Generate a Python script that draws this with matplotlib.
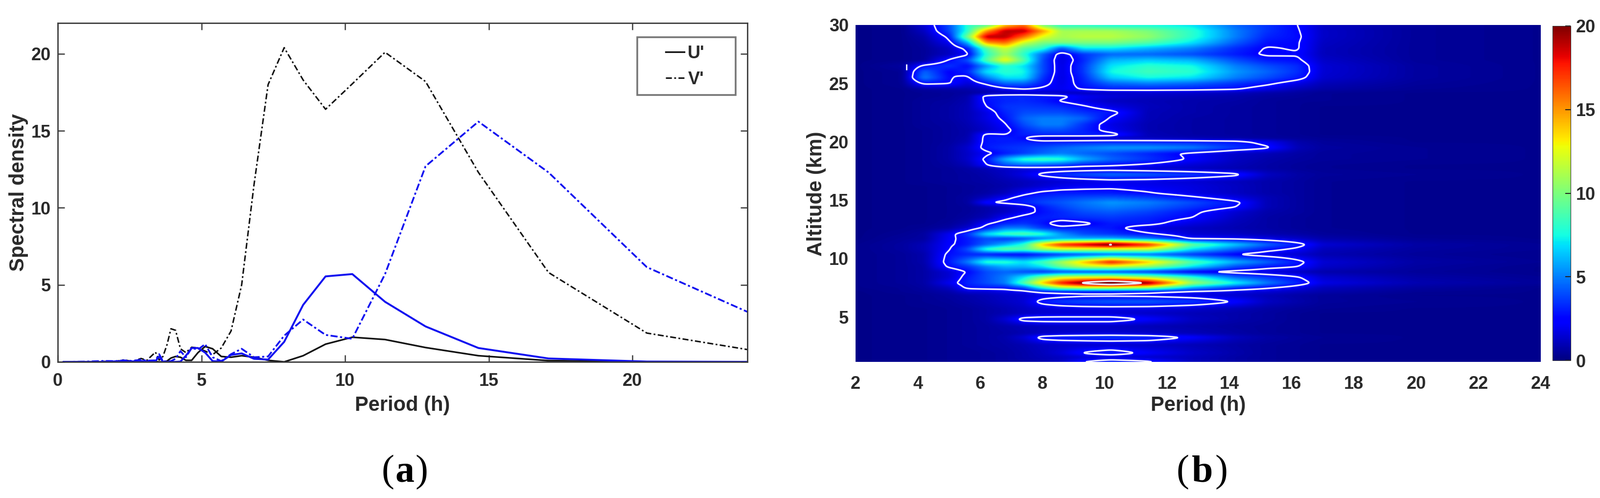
import matplotlib
matplotlib.use("Agg")
import matplotlib.pyplot as plt
from matplotlib.patches import Rectangle
import numpy as np

plt.rcParams['font.family'] = ['Liberation Sans', 'DejaVu Sans']
plt.rcParams['font.weight'] = 'bold'

W, H = 3269.0, 1017.0
text_col = '#2a2a2a'
spine_col = '#3c3c3c'

# panel (a): spectral density against period
period_a = [0.2, 1.0, 1.6, 2.0, 2.3, 2.6, 2.9, 3.1, 3.4, 3.53, 3.66, 3.8, 3.94, 4.1, 4.27, 4.46,
            4.66, 4.88, 5.13, 5.39, 5.69, 6.03, 6.4, 6.83, 7.32, 7.88, 8.54, 9.32, 10.25, 11.39,
            12.8, 14.64, 17.08, 20.5, 24.0]
u_black = [0, 0, 0, 0.02, 0.02, 0.02, 0.03, 0.02, 0.02, 0, 0, 0.05, 0.25, 0.35, 0.3, 0.1,
           0.1, 0.6, 1.0, 0.85, 0.35, 0.3, 0.4, 0.3, 0.1, 0, 0.4, 1.15, 1.6, 1.45,
           0.93, 0.4, 0.08, 0.01, 0]
v_black = [0, 0, 0.03, 0.03, 0.13, 0.03, 0.22, 0.1, 0.63, 0.12, 0.35, 1.1, 2.15, 2.05, 0.85, 0.6,
           0.95, 0.9, 0.7, 0.47, 0.9, 2.0, 5.0, 11.5, 18.0, 20.4, 18.3, 16.4, 18.05, 20.1,
           18.2, 12.3, 5.8, 1.87, 0.8]
u_blue = [0, 0, 0, 0.03, 0.05, 0.03, 0.06, 0.03, 0.05, 0.35, 0.02, 0, 0, 0, 0.02, 0.4,
          0.9, 0.9, 0.6, 0.05, 0.02, 0.45, 0.55, 0.2, 0.15, 1.3, 3.7, 5.55, 5.7, 3.9,
          2.3, 0.9, 0.22, 0.02, 0]
v_blue = [0, 0.02, 0.06, 0.05, 0.1, 0.06, 0.15, 0.08, 0.1, 0.5, 0.05, 0.02, 0.05, 0.2, 0.7, 0.3,
          0.9, 0.8, 1.15, 0.3, 0.05, 0.5, 0.85, 0.3, 0.35, 1.7, 2.75, 1.75, 1.5, 5.7,
          12.7, 15.6, 12.3, 6.15, 3.25]

xticks_a = [0, 5, 10, 15, 20]
yticks_a = [0, 5, 10, 15, 20]

# panel (b): spectral power on period / altitude grid
period_b = [2, 3.5, 4.2, 5, 5.6, 6.2, 6.8, 7.4, 8, 8.6, 9.3, 10.2, 11.4, 12.8, 14.2, 15.2, 16.2, 17, 20, 24]
altitude_b = [30.0, 29.5, 29.0, 28.5, 28.0, 27.5, 27.0, 26.5, 26.0, 25.5, 25.0, 24.5, 24.2, 23.9, 23.5,
              23.0, 22.5, 22.0, 21.5, 21.0, 20.6, 20.3, 20.0, 19.5, 19.0, 18.5, 18.0, 17.7, 17.2, 16.6,
              16.2, 15.6, 15.2, 14.8, 14.4, 14.0, 13.5, 13.0, 12.6, 12.1, 11.7, 11.2, 10.8, 10.35, 9.7,
              9.3, 8.85, 8.4, 7.9, 7.5, 7.15, 6.85, 6.3, 5.7, 5.3, 4.8, 4.2, 3.6, 3.25, 2.6, 1.9, 1.55, 1.15]
power_b = [
    [.2, .3, 1.5, 4.0, 8.0, 9.0, 14, 16, 10, 8.0, 8.0, 7.5, 7.5, 7.0, 4.5, 3.5, 2.5, 1.2, .5, .3],
    [.2, .3, 1.2, 3.8, 8.0, 15, 19, 19, 15, 11, 11, 11, 10, 8.0, 5.0, 3.5, 2.6, 1.3, .5, .3],
    [.2, .3, .8, 2.8, 10, 19, 19, 16, 12.5, 11, 11.5, 11.5, 10.5, 8.0, 5.0, 3.2, 2.7, 1.3, .5, .3],
    [.2, .3, .6, 2.0, 6.0, 15, 16, 12, 10, 10, 10, 10, 9.0, 7.0, 4.3, 2.8, 2.6, 1.2, .5, .3],
    [.2, .3, .5, 1.2, 3.0, 9.0, 12, 9.0, 8.0, 4.0, 7.0, 7.0, 6.0, 5.0, 3.3, 2.4, 2.6, 1.1, .5, .3],
    [.2, .3, .5, 1.2, 2.2, 8.0, 11, 8.0, 4.5, 1.8, 3.5, 4.5, 4.5, 4.0, 3.0, 2.3, 2.4, 1.1, .5, .3],
    [.2, .3, .5, 2.6, 4.0, 9.0, 13, 9.0, 4.0, 1.6, 3.2, 6.0, 6.5, 6.0, 4.0, 3.0, 2.7, 1.3, .5, .3],
    [.2, .6, 2.8, 3.5, 2.6, 5.5, 8.0, 7.0, 4.0, 1.7, 3.5, 7.0, 8.0, 7.5, 5.0, 4.0, 3.3, 1.5, .6, .3],
    [.2, .4, 4.5, 2.4, 3.2, 7.0, 8.0, 7.5, 4.0, 1.7, 3.5, 7.5, 8.5, 8.0, 5.5, 4.5, 3.4, 1.5, .6, .3],
    [.2, .4, 5.0, 2.6, 2.2, 5.0, 7.0, 7.0, 3.5, 1.7, 3.2, 6.5, 7.5, 7.0, 5.0, 4.0, 3.0, 1.4, .6, .3],
    [.2, .4, 2.8, 2.6, 1.5, 2.8, 4.5, 4.5, 3.0, 1.8, 3.0, 4.5, 5.0, 4.5, 3.5, 2.8, 1.8, 1.0, .5, .3],
    [.2, .3, .6, .7, .8, 1.2, 2.0, 2.5, 2.2, 2.0, 2.6, 3.0, 3.0, 2.9, 2.6, 1.8, 1.0, .7, .4, .3],
    [.2, .3, .4, .5, .6, .8, 1.0, 1.2, 1.2, 1.2, 1.2, 1.3, 1.4, 1.3, 1.1, .8, .6, .4, .3, .3],
    [.2, .3, .4, .5, .8, 2.9, 3.3, 3.3, 3.0, 2.8, 2.0, 1.6, 1.2, 1.0, .8, .6, .5, .4, .3, .3],
    [.2, .3, .5, .6, .9, 2.8, 3.2, 3.3, 3.0, 2.4, 1.8, 1.2, 1.0, .8, .7, .5, .4, .4, .3, .3],
    [.2, .3, .5, .7, 1.0, 2.5, 3.5, 3.6, 3.5, 3.3, 2.7, 1.8, 1.1, .8, .6, .5, .4, .3, .3, .3],
    [.2, .3, .5, .7, 1.0, 1.8, 3.2, 4.0, 4.0, 4.0, 3.5, 2.9, 1.0, .8, .6, .5, .4, .3, .3, .3],
    [.2, .3, .5, .7, 1.0, 1.8, 2.8, 4.5, 5.0, 5.0, 4.5, 2.3, 1.0, .7, .6, .5, .4, .3, .3, .3],
    [.2, .3, .5, .6, .9, 1.5, 2.4, 4.0, 5.0, 5.0, 3.5, 1.8, .9, .7, .6, .5, .4, .3, .3, .3],
    [.2, .3, .4, .6, .8, 1.3, 2.1, 3.3, 4.0, 4.0, 3.2, 2.0, .9, .7, .6, .5, .4, .3, .3, .3],
    [.2, .3, .4, .6, .8, 2.8, 2.5, 3.1, 3.2, 3.2, 3.2, 3.0, 1.0, .7, .6, .5, .4, .3, .3, .3],
    [.2, .3, .4, .6, .9, 2.9, 3.1, 2.6, 1.2, 1.1, 1.1, 1.2, 1.1, 1.0, .8, .6, .5, .4, .3, .3],
    [.2, .3, .4, .6, 1.0, 2.9, 3.0, 3.1, 2.9, 3.0, 3.1, 3.2, 3.2, 3.1, 2.9, 2.0, .8, .5, .3, .3],
    [.2, .3, .4, .7, 1.4, 3.0, 3.4, 3.6, 4.0, 4.5, 5.0, 5.5, 5.5, 5.0, 3.5, 2.7, 1.0, .6, .4, .3],
    [.2, .3, .4, .7, 1.3, 2.2, 3.0, 3.7, 4.5, 5.0, 4.5, 4.0, 3.2, 2.2, 1.3, 1.0, .7, .5, .4, .3],
    [.2, .3, .4, .7, 1.3, 2.8, 6.0, 8.0, 8.5, 8.0, 6.0, 4.5, 3.5, 2.3, 1.2, .8, .6, .5, .4, .3],
    [.2, .3, .4, .6, 1.0, 2.4, 4.0, 4.5, 4.2, 3.8, 3.0, 2.7, 2.2, 1.5, 1.0, .7, .5, .4, .3, .3],
    [.2, .3, .4, .5, .7, 1.0, 1.3, 1.5, 1.6, 1.6, 1.6, 1.6, 1.4, 1.2, .9, .7, .5, .4, .3, .3],
    [.2, .3, .4, .5, .6, .8, 1.2, 1.8, 2.8, 3.4, 4.0, 4.6, 4.3, 3.6, 2.8, 1.2, .7, .5, .4, .3],
    [.2, .3, .4, .5, .6, .7, .9, 1.1, 1.3, 1.5, 1.7, 1.9, 1.8, 1.5, 1.1, .8, .6, .4, .3, .3],
    [.2, .3, .3, .4, .5, .6, .8, 1.1, 1.5, 1.9, 2.1, 2.2, 2.0, 1.7, 1.2, .8, .6, .4, .3, .3],
    [.2, .3, .3, .4, .5, .7, 1.1, 2.2, 2.8, 3.0, 3.0, 3.0, 2.6, 1.8, 1.2, .8, .6, .4, .3, .3],
    [.2, .3, .3, .4, .6, 1.2, 2.2, 3.0, 3.4, 3.7, 4.0, 4.2, 3.8, 2.8, 1.8, 1.0, .6, .4, .3, .3],
    [.2, .3, .3, .4, .6, 2.5, 2.8, 3.2, 3.8, 4.2, 4.8, 5.5, 5.0, 4.0, 2.8, 1.0, .6, .4, .3, .3],
    [.2, .3, .3, .4, .5, .8, 1.2, 1.8, 3.0, 3.8, 4.5, 5.0, 4.5, 3.5, 2.5, 1.0, .6, .4, .3, .3],
    [.2, .3, .3, .4, .5, .8, 1.2, 2.0, 2.8, 3.3, 4.0, 4.3, 3.8, 2.8, 1.5, .8, .6, .4, .3, .3],
    [.2, .3, .3, .4, .6, 1.0, 2.2, 2.9, 3.1, 3.2, 3.4, 3.6, 3.2, 2.5, 1.2, .7, .5, .4, .3, .3],
    [.2, .3, .3, .5, .9, 2.3, 3.2, 3.5, 2.9, 1.7, 2.2, 3.0, 2.9, 1.7, 1.0, .7, .5, .4, .3, .3],
    [.2, .3, .4, .7, 1.5, 3.0, 5.0, 5.0, 3.6, 3.0, 3.2, 2.9, 1.7, 1.2, .9, .7, .5, .4, .3, .3],
    [.2, .4, .6, 2.0, 3.5, 7.0, 8.5, 9.0, 8.0, 5.5, 4.0, 3.5, 2.7, 1.5, 1.2, .9, .7, .5, .3, .3],
    [.2, .5, .6, 2.2, 3.0, 4.0, 3.5, 4.0, 5.0, 6.0, 6.0, 6.0, 5.0, 2.3, 2.2, 1.8, 1.3, .8, .4, .3],
    [.3, .6, 1.0, 2.3, 3.0, 4.5, 6.0, 8.0, 14, 17.5, 19, 21, 17.5, 9.5, 6.5, 4.5, 3.0, 1.5, .7, .4],
    [.3, .6, 1.0, 2.4, 4.0, 8.0, 9.5, 9.0, 11, 12, 12, 12, 12, 7.0, 4.5, 3.0, 2.2, 1.1, .6, .4],
    [.3, .5, .8, 2.8, 3.2, 3.0, 2.5, 2.5, 3.0, 3.5, 4.0, 4.5, 4.5, 3.5, 2.4, 1.8, 1.4, .9, .5, .3],
    [.3, .5, .8, 3.0, 5.0, 8.0, 8.0, 7.0, 8.5, 11, 14, 18, 14, 9.0, 6.0, 4.5, 2.9, 1.5, .7, .4],
    [.3, .5, .7, 2.7, 3.5, 5.0, 6.0, 6.0, 7.0, 9.5, 11.5, 12, 10.5, 7.0, 4.0, 3.0, 2.5, 1.3, .6, .3],
    [.3, .5, .7, 1.5, 2.6, 4.0, 4.5, 4.0, 3.5, 4.0, 4.0, 4.0, 3.5, 2.3, 2.0, 1.6, 1.2, .8, .5, .3],
    [.3, .5, .7, 1.5, 3.0, 4.0, 5.0, 7.0, 10, 12, 12.5, 12.5, 11, 8.0, 4.5, 3.5, 2.6, 1.4, .7, .4],
    [.3, .5, .7, 2.0, 3.2, 4.0, 5.0, 9.0, 14, 18, 20.5, 23, 20, 11, 7.5, 5.0, 3.2, 1.8, .9, .5],
    [.3, .4, .6, 1.2, 2.8, 3.0, 3.0, 4.0, 8.0, 11, 12, 12, 11, 6.0, 3.5, 2.7, 1.8, 1.1, .6, .3],
    [.2, .4, .5, .8, 1.5, 1.5, 1.8, 2.0, 2.8, 3.0, 3.0, 3.0, 2.8, 2.1, 1.8, 1.5, 1.1, .8, .4, .3],
    [.2, .3, .4, .6, .8, 1.0, 1.3, 1.5, 1.8, 2.0, 2.2, 2.2, 2.1, 1.8, 1.4, 1.0, .7, .5, .3, .3],
    [.2, .3, .4, .5, .7, .9, 1.2, 1.5, 3.0, 3.6, 4.0, 4.3, 4.3, 3.6, 2.4, 1.2, .8, .5, .4, .3],
    [.2, .3, .3, .4, .5, .7, .9, 1.2, 1.5, 1.7, 1.8, 1.8, 1.7, 1.4, 1.0, .7, .5, .4, .3, .3],
    [.2, .3, .3, .4, .5, .7, .9, 1.2, 1.4, 1.5, 1.5, 1.5, 1.3, 1.0, .8, .6, .4, .3, .3, .3],
    [.2, .3, .3, .4, .5, .7, 1.5, 3.0, 3.2, 3.2, 3.2, 3.2, 2.3, 1.2, .8, .6, .4, .3, .3, .3],
    [.2, .3, .3, .4, .5, .6, .8, 1.0, 1.1, 1.2, 1.2, 1.2, 1.0, .8, .6, .5, .4, .3, .3, .3],
    [.2, .3, .3, .4, .5, .6, .7, .9, 1.2, 1.4, 1.5, 1.5, 1.3, 1.0, .7, .5, .4, .3, .3, .3],
    [.2, .3, .3, .4, .5, .6, .8, 1.5, 3.0, 3.3, 3.4, 3.6, 3.4, 2.3, 1.1, .7, .5, .4, .3, .3],
    [.2, .3, .3, .4, .5, .6, .7, .9, 1.2, 1.3, 1.4, 1.4, 1.3, 1.0, .7, .5, .4, .3, .3, .3],
    [.2, .3, .3, .4, .4, .5, .6, .8, 1.1, 1.6, 2.6, 3.2, 2.2, 1.3, .8, .5, .4, .3, .3, .3],
    [.2, .3, .3, .4, .4, .5, .6, .8, 1.0, 1.2, 1.5, 1.6, 1.4, 1.1, .7, .5, .4, .3, .3, .3],
    [.2, .3, .3, .4, .4, .5, .6, .7, .9, 1.2, 2.5, 3.2, 2.7, 1.1, .7, .5, .4, .3, .3, .3],
]
# the tiny closed contour left of the 25 km blob, too small for the grid
spot_period = [3.64]
spot_altitude = [26.4]

xticks_b = [2, 4, 6, 8, 10, 12, 14, 16, 18, 20, 22, 24]
yticks_b = [5, 10, 15, 20, 25, 30]
cbar_ticks = [0, 5, 10, 15, 20]


def axes_px(x0, x1, y_top, y_bottom):
    return fig.add_axes([x0 / W, 1 - y_bottom / H, (x1 - x0) / W, (y_bottom - y_top) / H])


def smooth(a, n, axis):
    # small hanning blur so the read-off grid does not show its cells
    kernel = np.hanning(2 * n + 3)[1:-1]
    kernel = kernel / kernel.sum()
    return np.apply_along_axis(
        lambda v: np.convolve(np.pad(v, n, mode='edge'), kernel, mode='valid'), axis, a)


fig = plt.figure(figsize=(W / 100, H / 100), dpi=100)

# (a)
ax = axes_px(118, 1527, 47, 739)
ax.plot(period_a, u_black, color='#111111', lw=2.4, solid_joinstyle='round')
ax.plot(period_a, v_black, color='#111111', lw=2.2, linestyle=(0, (4, 1.6, 1.2, 1.6)))
ax.plot(period_a, u_blue, color='#1010f0', lw=2.8)
ax.plot(period_a, v_blue, color='#1010f0', lw=2.6, linestyle=(0, (4, 1.4, 1.2, 1.4)))
ax.set_xlim(0, 24)
ax.set_ylim(0, 22)
ax.set_xticks(xticks_a)
ax.set_yticks(yticks_a)
ax.tick_params(direction='in', top=True, right=True, length=10, width=1.8, color=spine_col,
               labelsize=26, labelcolor=text_col)
ax.tick_params(axis='x', pad=16)
ax.tick_params(axis='y', pad=10)
for s in ax.spines.values():
    s.set_linewidth(2.0)
    s.set_color(spine_col)

# legend box drawn by hand, the frame is wider than the entries need
ax.add_patch(Rectangle((1302 / W, 1 - 194 / H), 201 / W, 118 / H, transform=fig.transFigure,
                       facecolor='white', edgecolor='#777777', lw=2.6, zorder=4))
leg_lines = [plt.Line2D([], [], color='#111111', lw=2.4),
             plt.Line2D([], [], color='#111111', lw=2.2, linestyle=(0, (4, 1.6, 1.2, 1.6)))]
leg = ax.legend(leg_lines, ["U'", "V'"], frameon=False, fontsize=26, handlelength=1.05,
                handletextpad=0.2, labelspacing=0.5, loc='center',
                bbox_to_anchor=(1400 / W, 1 - 136 / H), bbox_transform=fig.transFigure)
leg.set_zorder(5)
for t in leg.get_texts():
    t.set_color(text_col)

fig.text(822 / W, 1 - 828 / H, "Period (h)", ha='center', va='center', fontsize=30, color=text_col)
fig.text(38 / W, 1 - 393 / H, "Spectral density", ha='center', va='center', rotation=90,
         fontsize=30, color=text_col)

# (b)
fine_x = np.linspace(2, 24, 1101)
fine_y = np.linspace(1.15, 30, 1155)
grid = np.array(power_b, dtype=float)[::-1]
alts = np.array(altitude_b)[::-1]
by_period = np.array([np.interp(fine_x, period_b, row) for row in grid])
fine = np.array([np.interp(fine_y, alts, col) for col in by_period.T]).T
fine = smooth(smooth(fine, 10, 1), 6, 0)

ax2 = axes_px(1748, 3148, 51, 739)
im = ax2.imshow(fine, extent=[2, 24, 1.15, 30], origin='lower', aspect='auto', cmap='jet',
                vmin=0, vmax=20, interpolation='bilinear')
ax2.contour(fine_x, fine_y, fine, levels=[2.5, 19.5], colors='#ecebff', linewidths=2.4)
ax2.plot(spot_period, spot_altitude, marker='|', ms=9, mew=2.2, color='#ecebff', ls='none')
ax2.set_xlim(2, 24)
ax2.set_ylim(1.15, 30)
ax2.set_xticks(xticks_b)
ax2.set_yticks(yticks_b)
ax2.tick_params(length=0, labelsize=26, labelcolor=text_col)
ax2.tick_params(axis='x', pad=20)
ax2.tick_params(axis='y', pad=10)
for s in ax2.spines.values():
    s.set_visible(False)

fig.text(2448 / W, 1 - 828 / H, "Period (h)", ha='center', va='center', fontsize=30, color=text_col)
fig.text(1668 / W, 1 - 396 / H, "Altitude (km)", ha='center', va='center', rotation=90,
         fontsize=30, color=text_col)

cax = axes_px(3172, 3209, 53, 736)
cb = fig.colorbar(im, cax=cax)
cb.set_ticks(cbar_ticks)
cb.ax.tick_params(direction='in', length=8, width=1.5, color='#222222', labelsize=26,
                  labelcolor=text_col, pad=8)
cb.outline.set_linewidth(0.8)
cb.outline.set_edgecolor('#333333')

# captions: parens regular, letter bold
for left, mid, right, letter in [(793, 827, 861, 'a'), (2417, 2457, 2495, 'b')]:
    for xp, s, w in [(left, '(', 'normal'), (mid, letter, 'bold'), (right, ')', 'normal')]:
        fig.text(xp / W, 1 - 965 / H, s, ha='center', va='center', fontsize=56, color='black',
                 family=['Liberation Serif', 'DejaVu Serif'], weight=w)

fig.savefig('out.png', dpi=100)
